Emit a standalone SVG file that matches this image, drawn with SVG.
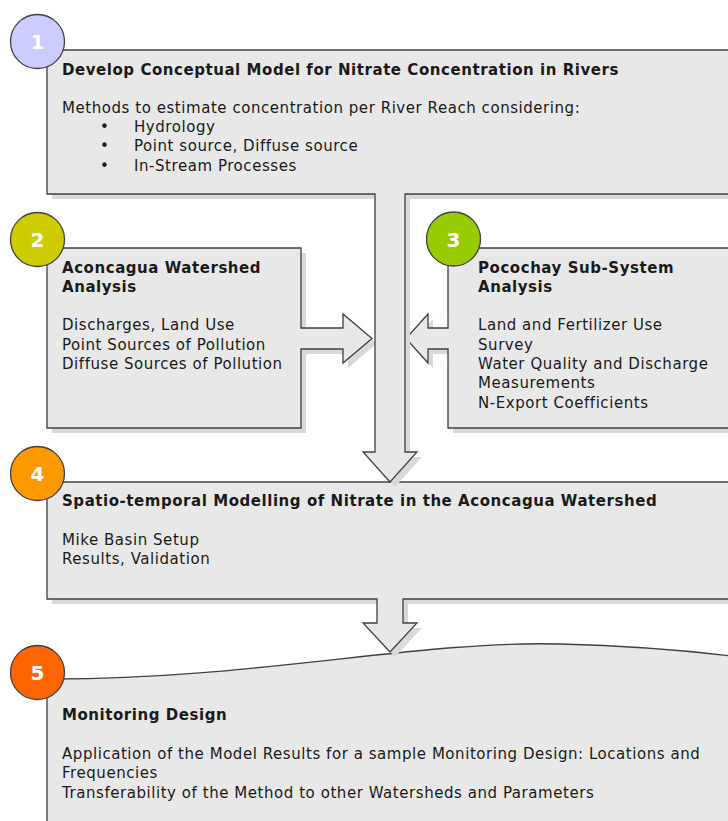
<svg xmlns="http://www.w3.org/2000/svg" width="728" height="821" viewBox="0 0 728 821">
  <style>
    .box { fill: #e8e8e8; stroke: #404040; stroke-width: 1.3; stroke-linejoin: miter; }
    .shadow { fill: #d9d9d9; stroke: none; }
    .badge { stroke: #404040; stroke-width: 1.3; }
    .num { font-family: "DejaVu Sans", Verdana, sans-serif; font-weight: bold; font-size: 20px; fill: #ffffff; text-anchor: middle; }
    .t { font-family: "DejaVu Sans", Verdana, sans-serif; font-size: 15px; letter-spacing: 0.55px; fill: #1a1a1a; }
    .b { font-weight: bold; }
  </style>
  <rect width="728" height="821" fill="#ffffff"/>

  <!-- Step 5: Monitoring design (wavy top) -->
  <g id="node5">
    <path class="box" d="M47,679 C250,680 420,640 560,644 C640,646 700,652 740,657 V830 H47 Z"/>
    <circle class="badge" cx="37.5" cy="672.5" r="27" fill="#ff6600"/>
    <text class="num" x="37.5" y="680">5</text>
    <text class="t b" x="62" y="720">Monitoring Design</text>
    <text class="t" x="62" y="759">Application of the Model Results for a sample Monitoring Design: Locations and</text>
    <text class="t" x="62" y="778">Frequencies</text>
    <text class="t" x="62" y="797.5">Transferability of the Method to other Watersheds and Parameters</text>
  </g>

  <!-- Step 4: modelling box with down arrow -->
  <g id="node4">
    <path class="shadow" d="M52,487 H745 V604 H408 V628 H422 L395,657 L368,628 H382 V604 H52 Z"/>
    <path class="box" d="M47,482 H740 V599 H403 V623 H417 L390,652 L363,623 H377 V599 H47 Z"/>
    <circle class="badge" cx="37.5" cy="473.5" r="27" fill="#ff9900"/>
    <text class="num" x="37.5" y="481">4</text>
    <text class="t b" x="62" y="506">Spatio-temporal Modelling of Nitrate in the Aconcagua Watershed</text>
    <text class="t" x="62" y="545">Mike Basin Setup</text>
    <text class="t" x="62" y="563.5">Results, Validation</text>
  </g>

  <!-- Step 2: watershed analysis with right arrow -->
  <g id="node2">
    <path class="shadow" d="M52,253 H306 V333 H348 V319 L377,343.5 L348,368 V354 H306 V433 H52 Z"/>
    <path class="box" d="M47,248 H301 V328 H343 V314 L372,338.5 L343,363 V349 H301 V428 H47 Z"/>
    <circle class="badge" cx="37.5" cy="239.5" r="27" fill="#cccc00"/>
    <text class="num" x="37.5" y="247">2</text>
    <text class="t b" x="62" y="272.5">Aconcagua Watershed</text>
    <text class="t b" x="62" y="291.5">Analysis</text>
    <text class="t" x="62" y="330">Discharges, Land Use</text>
    <text class="t" x="62" y="349.5">Point Sources of Pollution</text>
    <text class="t" x="62" y="369">Diffuse Sources of Pollution</text>
  </g>

  <!-- Step 3: sub-system analysis with left arrow -->
  <g id="node3">
    <path class="shadow" d="M453,253 H745 V433 H453 V354 H433 V368 L411,343.5 L433,319 V333 H453 Z"/>
    <path class="box" d="M448,248 H740 V428 H448 V349 H428 V363 L406,338.5 L428,314 V328 H448 Z"/>
    <circle class="badge" cx="453.5" cy="239" r="27" fill="#99cc00"/>
    <text class="num" x="453.5" y="246.5">3</text>
    <text class="t b" x="478" y="272.5">Pocochay Sub-System</text>
    <text class="t b" x="478" y="291.5">Analysis</text>
    <text class="t" x="478" y="330">Land and Fertilizer Use</text>
    <text class="t" x="478" y="349.5">Survey</text>
    <text class="t" x="478" y="369">Water Quality and Discharge</text>
    <text class="t" x="478" y="388">Measurements</text>
    <text class="t" x="478" y="407.5">N-Export Coefficients</text>
  </g>

  <!-- Step 1: conceptual model box with long down arrow -->
  <g id="node1">
    <path class="shadow" d="M52,55 H745 V199 H410 V457 H422 L395,487 L368,457 H380 V199 H52 Z"/>
    <path class="box" d="M47,50 H740 V194 H405 V452 H417 L390,482 L363,452 H375 V194 H47 Z"/>
    <circle class="badge" cx="37.5" cy="41.5" r="27" fill="#ccccff"/>
    <text class="num" x="37.5" y="49">1</text>
    <text class="t b" x="62" y="74.5">Develop Conceptual Model for Nitrate Concentration in Rivers</text>
    <text class="t" x="62" y="113">Methods to estimate concentration per River Reach considering:</text>
    <text class="t" x="100" y="131.5">•</text>
    <text class="t" x="134" y="131.5">Hydrology</text>
    <text class="t" x="100" y="151">•</text>
    <text class="t" x="134" y="151">Point source, Diffuse source</text>
    <text class="t" x="100" y="170.5">•</text>
    <text class="t" x="134" y="170.5">In-Stream Processes</text>
  </g>
</svg>
